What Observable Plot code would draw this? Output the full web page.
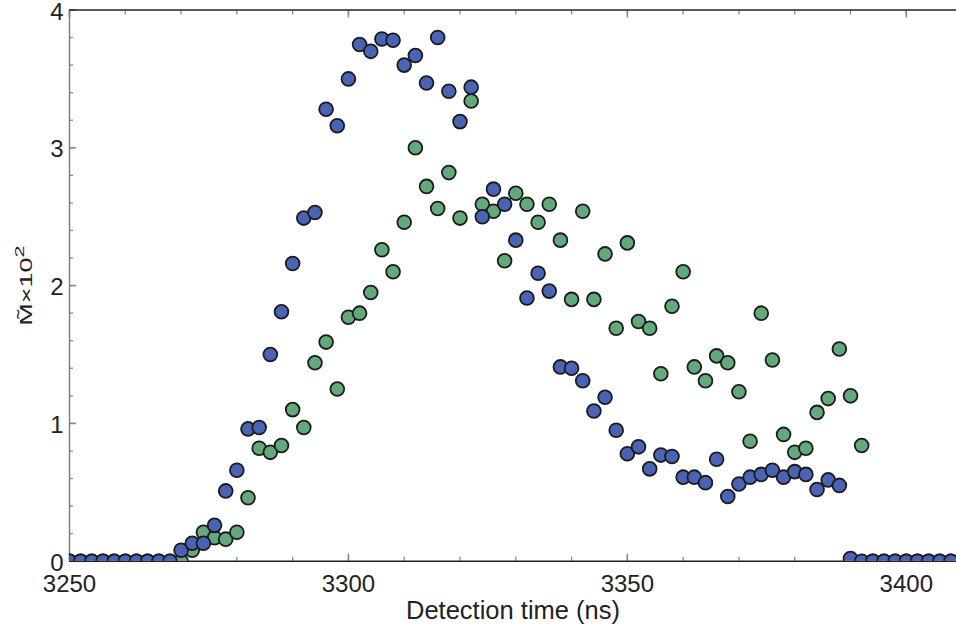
<!DOCTYPE html>
<html>
<head>
<meta charset="utf-8">
<script src="https://cdn.jsdelivr.net/npm/d3@7"></script>
<script src="https://cdn.jsdelivr.net/npm/@observablehq/plot@0.6"></script>
<style>
  html, body { margin: 0; padding: 0; background: #fff; }
  #chart svg { display: block; }
</style>
</head>
<body>
<div id="chart"></div>
<script>
// Detection times (ns)
const times = [
  3250, 3252, 3254, 3256, 3258, 3260, 3262, 3264, 3266, 3268,
  3270, 3272, 3274, 3276, 3278, 3280, 3282, 3284, 3286, 3288,
  3290, 3292, 3294, 3296, 3298, 3300, 3302, 3304, 3306, 3308,
  3310, 3312, 3314, 3316, 3318, 3320, 3322, 3324, 3326, 3328,
  3330, 3332, 3334, 3336, 3338, 3340, 3342, 3344, 3346, 3348,
  3350, 3352, 3354, 3356, 3358, 3360, 3362, 3364, 3366, 3368,
  3370, 3372, 3374, 3376, 3378, 3380, 3382, 3384, 3386, 3388,
  3390, 3392, 3394, 3396, 3398, 3400, 3402, 3404, 3406, 3408
];

// Blue series (M̃ × 10²)
const blueValues = [
  0, 0, 0, 0, 0, 0, 0, 0, 0, 0,
  0.08, 0.13, 0.13, 0.26, 0.51, 0.66, 0.96, 0.97, 1.50, 1.81,
  2.16, 2.49, 2.53, 3.28, 3.16, 3.50, 3.75, 3.70, 3.79, 3.78,
  3.60, 3.67, 3.47, 3.80, 3.41, 3.19, 3.44, 2.50, 2.70, 2.59,
  2.33, 1.91, 2.09, 1.96, 1.41, 1.40, 1.31, 1.09, 1.19, 0.95,
  0.78, 0.83, 0.67, 0.77, 0.76, 0.61, 0.61, 0.57, 0.74, 0.47,
  0.56, 0.61, 0.63, 0.66, 0.61, 0.65, 0.63, 0.52, 0.59, 0.55,
  0.02, 0, 0, 0, 0, 0, 0, 0, 0, 0
];

// Green series (M̃ × 10²)
const greenValues = [
  0, 0, 0, 0, 0, 0, 0, 0, 0, 0,
  0, 0.08, 0.21, 0.17, 0.16, 0.21, 0.46, 0.82, 0.79, 0.84,
  1.10, 0.97, 1.44, 1.59, 1.25, 1.77, 1.80, 1.95, 2.26, 2.10,
  2.46, 3.00, 2.72, 2.56, 2.82, 2.49, 3.34, 2.59, 2.54, 2.18,
  2.67, 2.59, 2.46, 2.59, 2.33, 1.90, 2.54, 1.90, 2.23, 1.69,
  2.31, 1.74, 1.69, 1.36, 1.85, 2.10, 1.41, 1.31, 1.49, 1.44,
  1.23, 0.87, 1.80, 1.46, 0.92, 0.79, 0.82, 1.08, 1.18, 1.54,
  1.20, 0.84, 0, 0, 0, 0, 0, 0, 0, 0
];

const xMajorTicks = [3250, 3300, 3350, 3400];
const xMinorTicks = d3.range(3250, 3401, 10);
const yMajorTicks = [0, 1, 2, 3, 4];
const yMinorTicks = d3.range(0, 20.5, 1).map(d => d / 5);

const xLabel = "Detection time (ns)";
const yLabelBase = "M\u0303\u00d710";
const yLabelSup = "2";

const blueData = times.map((t, i) => ({t, v: blueValues[i]}));
const greenData = times.map((t, i) => ({t, v: greenValues[i]}));

const FONT = "'Liberation Sans', Arial, Helvetica, sans-serif";
const tickGray = "#8a8a8a";
const noText = () => "";

const chart = Plot.plot({
  width: 956,
  height: 641,
  marginLeft: 69,
  marginRight: 0,
  marginTop: 9.5,
  marginBottom: 80.3,
  style: {fontFamily: FONT, background: "#fff", color: "#222"},
  x: {domain: [3250, 3409]},
  y: {domain: [0, 4]},
  marks: [
    // inward ticks, bottom
    Plot.axisX(xMinorTicks, {anchor: "bottom", tickSize: -4, stroke: tickGray, strokeWidth: 1.3, tickFormat: noText, label: null}),
    Plot.axisX(xMajorTicks, {anchor: "bottom", tickSize: -7, stroke: tickGray, strokeWidth: 1.6, tickFormat: noText, label: null}),
    // inward ticks, top
    Plot.axisX(xMinorTicks, {anchor: "top", tickSize: -4, stroke: tickGray, strokeWidth: 1.3, tickFormat: noText, label: null}),
    Plot.axisX(xMajorTicks, {anchor: "top", tickSize: -7, stroke: tickGray, strokeWidth: 1.6, tickFormat: noText, label: null}),
    // inward ticks, left
    Plot.axisY(yMinorTicks, {anchor: "left", tickSize: -4, stroke: tickGray, strokeWidth: 1.3, tickFormat: noText, label: null}),
    Plot.axisY(yMajorTicks, {anchor: "left", tickSize: -7, stroke: tickGray, strokeWidth: 1.6, tickFormat: noText, label: null}),
    // tick labels
    Plot.axisX(xMajorTicks, {anchor: "bottom", tickSize: 0, tickPadding: 14, fontSize: 24, fill: "#222", tickFormat: d => String(d), label: null}),
    Plot.axisY(yMajorTicks, {anchor: "left", tickSize: 0, tickPadding: 6, dy: 2, fontSize: 24, fill: "#222", tickFormat: d => String(d), label: null}),
    // frame lines
    Plot.ruleX([3250], {stroke: "#7a7a7a", strokeWidth: 1.4}),
    Plot.ruleY([4], {stroke: "#222", strokeWidth: 1.5}),
    Plot.ruleY([0], {stroke: "#222", strokeWidth: 1.5}),
    // data
    Plot.dot(greenData, {x: "t", y: "v", r: 6.9, fill: "#63a97b", stroke: "#1c1c1c", strokeWidth: 1.8, clip: true}),
    Plot.dot(blueData, {x: "t", y: "v", r: 6.9, fill: "#4b63b5", stroke: "#1c1c1c", strokeWidth: 1.8, clip: true}),
    // axis titles
    Plot.text([xLabel], {text: d => d, frameAnchor: "bottom", textAnchor: "middle", dy: 58, fontSize: 25.5, fill: "#222"}),
    Plot.text([yLabelBase], {text: d => d, frameAnchor: "left", textAnchor: "middle", dx: -43, rotate: -90, fontSize: 27, fill: "#222"})
  ]
});

d3.select(chart).selectAll("text")
  .filter(function() { return this.textContent === yLabelBase; })
  .each(function() {
    const t = d3.select(this);
    t.attr("transform", (t.attr("transform") || "") + " scale(1,0.62)");
    t.append("tspan")
      .attr("dy", "-0.55em")
      .attr("font-size", "0.8em")
      .text(yLabelSup);
  });

document.getElementById("chart").appendChild(chart);
</script>
</body>
</html>
